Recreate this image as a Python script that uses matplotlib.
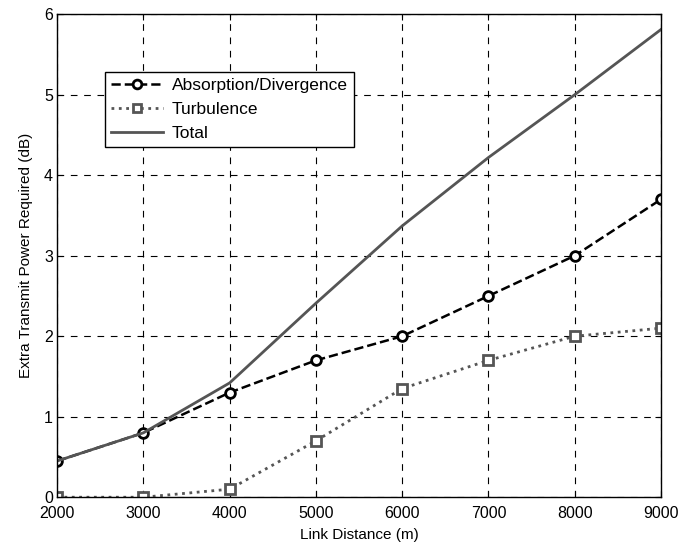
import matplotlib
matplotlib.use("Agg")
import matplotlib.pyplot as plt

distance = [2000, 3000, 4000, 5000, 6000, 7000, 8000, 9000]
absorption = [0.45, 0.8, 1.3, 1.7, 2.0, 2.5, 3.0, 3.7]
turbulence = [0.0, 0.0, 0.1, 0.7, 1.35, 1.7, 2.0, 2.1]
total = [0.45, 0.8, 1.42, 2.41, 3.37, 4.22, 5.0, 5.81]

plt.rcParams["font.family"] = ["Liberation Sans", "DejaVu Sans"]
plt.rcParams["font.size"] = 11

fig = plt.figure(figsize=(6.8, 5.47), dpi=100)
ax = fig.add_axes([0.084, 0.091, 0.888, 0.883])

ax.plot(distance, absorption, "--o", color="black", lw=1.8, ms=7,
        mfc="white", mec="black", mew=2, label="Absorption/Divergence")
ax.plot(distance, turbulence, ":s", color="#555555", lw=2, ms=7,
        mfc="white", mec="#555555", mew=2, label="Turbulence")
ax.plot(distance, total, "-", color="#555555", lw=2, label="Total")

ax.set_xlim(2000, 9000)
ax.set_ylim(0, 6)
ax.set_xticks(range(2000, 9001, 1000))
ax.set_yticks(range(0, 7))
ax.grid(True, color="black", linestyle=(0, (6, 6)), lw=0.8)
ax.tick_params(direction="in", top=True, right=True, length=4,
               labelsize=11.5)
ax.tick_params(axis="x", pad=6)
ax.tick_params(axis="y", pad=3)
for s in ax.spines.values():
    s.set_linewidth(1)

ax.set_xlabel("Link Distance (m)", labelpad=5)
ax.set_ylabel("Extra Transmit Power Required (dB)", labelpad=8)

leg = ax.legend(loc="upper left", bbox_to_anchor=(0.079, 0.88), fancybox=False,
                framealpha=1, edgecolor="black", fontsize=12.5, handlelength=3.0,
                borderaxespad=0, labelspacing=0.5, borderpad=0.35,
                handletextpad=0.5, markerscale=0.9)
leg.get_frame().set_linewidth(1)

plt.savefig("out.png", dpi=100)
